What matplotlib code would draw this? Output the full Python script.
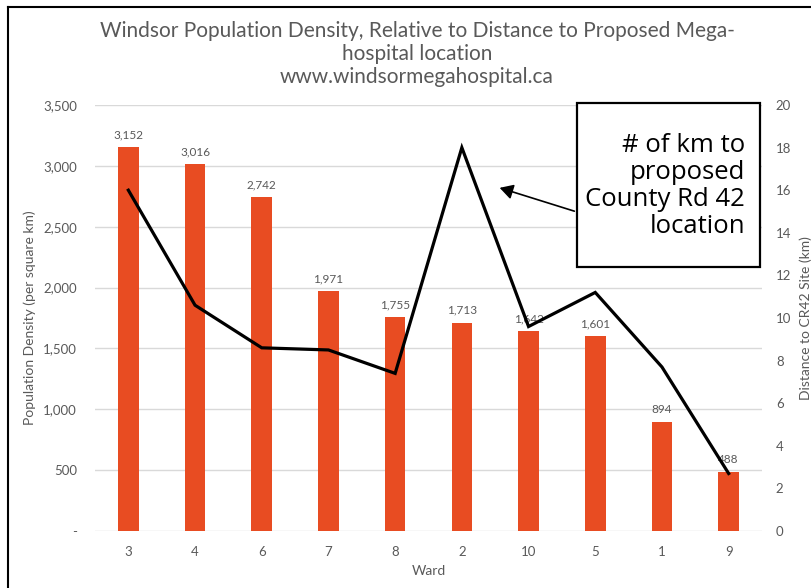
import matplotlib
matplotlib.use("Agg")
import matplotlib.pyplot as plt
from matplotlib.patches import Rectangle, FancyArrowPatch
from matplotlib.lines import Line2D
from matplotlib.ticker import FuncFormatter, MultipleLocator

# Data
wards = ["3", "4", "6", "7", "8", "2", "10", "5", "1", "9"]
density = [3152, 3016, 2742, 1971, 1755, 1713, 1642, 1601, 894, 488]
distance_km = [16.0, 10.6, 8.6, 8.5, 7.4, 18.0, 9.6, 11.2, 7.7, 2.7]

title_lines = [
    "Windsor Population Density, Relative to Distance to Proposed Mega-",
    "hospital location",
    "www.windsormegahospital.ca",
]
callout_text = "# of km to\nproposed\nCounty Rd 42\nlocation"

BAR = "#E84C22"
GREY = "#595959"
GRID = "#D9D9D9"
FONT = "Lato"

W, H = 811, 588
fig = plt.figure(figsize=(W / 100, H / 100), dpi=100)
fig.patch.set_facecolor("white")

# axes placement in pixels
L, R, T, B = 95, 762, 105, 531
ax = fig.add_axes([L / W, 1 - B / H, (R - L) / W, (B - T) / H])
ax2 = ax.twinx()

x = list(range(len(wards)))
ax.bar(x, density, width=0.31, color=BAR, zorder=2)
ax.set_xlim(-0.5, len(wards) - 0.5)
ax.set_ylim(0, 3500)
ax.yaxis.set_major_locator(MultipleLocator(500))
ax.yaxis.set_major_formatter(
    FuncFormatter(lambda v, p: "-" if v == 0 else f"{int(v):,}"))
ax.set_xticks(x)
ax.set_xticklabels(wards)
ax.grid(axis="y", color=GRID, linewidth=1.0, zorder=0)
ax.set_axisbelow(True)
for s in ax.spines.values():
    s.set_visible(False)
for s in ax2.spines.values():
    s.set_visible(False)
ax.tick_params(axis="both", length=0, colors=GREY, labelsize=9.5)
ax.tick_params(axis="y", pad=13)
ax.tick_params(axis="x", pad=11)
for lbl in ax.get_xticklabels() + ax.get_yticklabels():
    lbl.set_fontfamily(FONT)

ax.set_xlabel("Ward", color=GREY, fontsize=10, family=FONT, labelpad=5)
ax.set_ylabel("Population Density (per square km)", color=GREY,
              fontsize=10, family=FONT, labelpad=5)

for xi, v in zip(x, density):
    ax.annotate(f"{v:,}", (xi, v), xytext=(0, 5), textcoords="offset points",
                ha="center", va="bottom", fontsize=8.5, color=GREY, family=FONT)

ax2.plot(x, distance_km, color="black", linewidth=2.3, solid_joinstyle="miter",
         zorder=5)
ax2.set_ylim(0, 20)
ax2.yaxis.set_major_locator(MultipleLocator(2))
ax2.tick_params(axis="y", length=0, colors=GREY, labelsize=9.5, pad=10)
for lbl in ax2.get_yticklabels():
    lbl.set_fontfamily(FONT)
ax2.set_ylabel("Distance to CR42 Site (km)", color=GREY, fontsize=10,
               family=FONT, labelpad=6)

# Title
for i, line in enumerate(title_lines):
    fig.text(417 / W, 1 - (31 + 23 * i) / H, line, ha="center", va="center",
             fontsize=15, color=GREY, family=FONT)

# Callout box with arrow
bx0, bx1, by0, by1 = 577, 760, 103, 267
fig.patches.append(Rectangle((bx0 / W, 1 - by1 / H), (bx1 - bx0) / W,
                             (by1 - by0) / H, transform=fig.transFigure,
                             facecolor="white", edgecolor="black",
                             linewidth=1.6, zorder=10))
fig.text(745 / W, 1 - 186 / H, callout_text, ha="right", va="center",
         fontsize=18.5, family="Open Sans", color="black", linespacing=1.12,
         zorder=11)
fig.add_artist(FancyArrowPatch(
    (bx0 / W, 1 - 212 / H), (497 / W, 1 - 187 / H),
    transform=fig.transFigure, arrowstyle="-|>,head_length=8,head_width=4.5",
    color="black", linewidth=1.2, mutation_scale=1, zorder=10))

# Frame edges
fig.add_artist(Line2D([8 / W, 8 / W], [0, 1 - 7 / H], transform=fig.transFigure,
                      color="black", linewidth=1.5))
fig.add_artist(Line2D([8 / W, 1], [1 - 7 / H, 1 - 7 / H],
                      transform=fig.transFigure, color="black", linewidth=1.5))

fig.savefig("out.png", dpi=100)
